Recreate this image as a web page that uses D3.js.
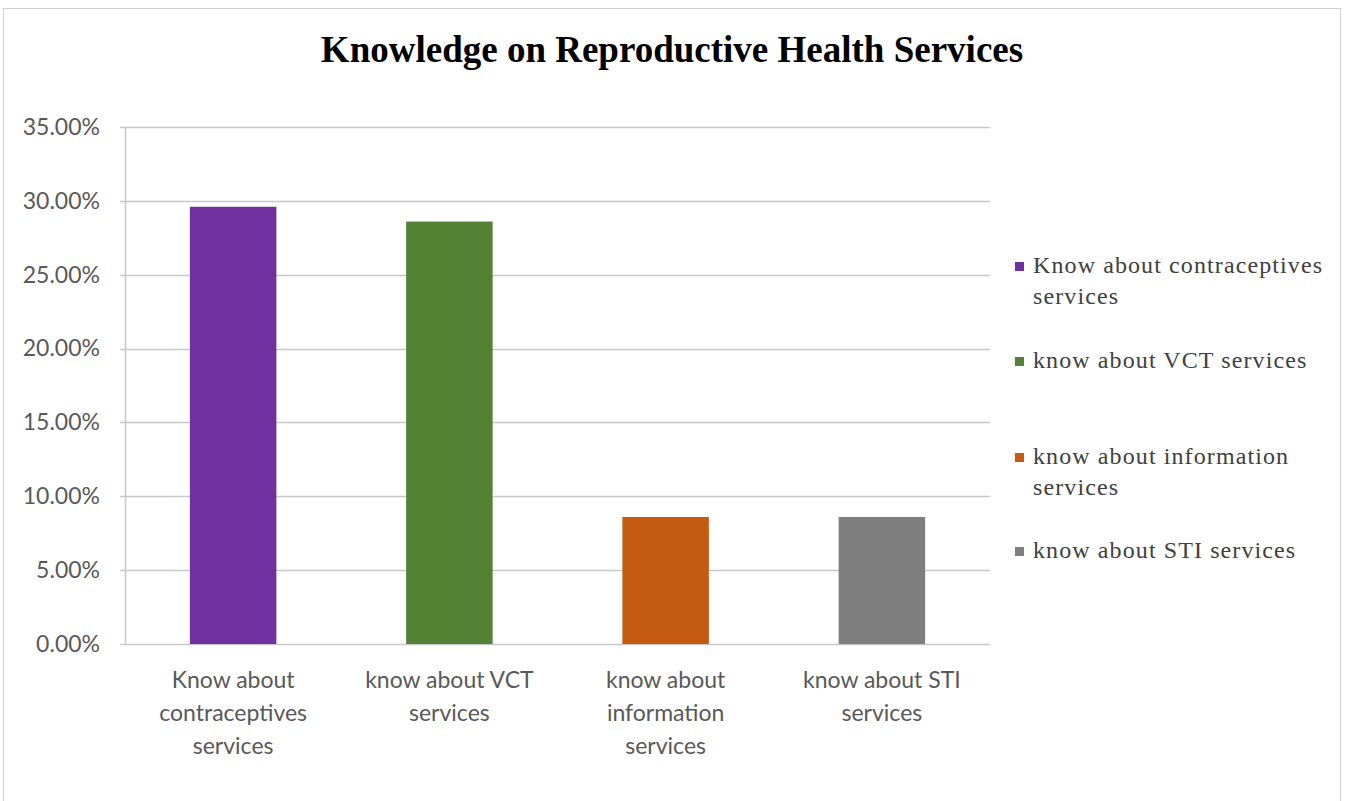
<!DOCTYPE html>
<html>
<head>
<meta charset="utf-8">
<script src="https://cdn.jsdelivr.net/npm/d3@7"></script>
<style>
  body { margin: 0; background: #fff; }
</style>
</head>
<body>
<div id="chart"></div>
<script>
// chart data
var categories = [
  ["Know about", "contraceptives", "services"],
  ["know about VCT", "services"],
  ["know about", "information", "services"],
  ["know about STI", "services"]
];
var legendLabels = [
  ["Know about contraceptives", "services"],
  ["know about VCT services"],
  ["know about information", "services"],
  ["know about STI services"]
];
var values = [0.296, 0.286, 0.086, 0.086];
var colors = ["#7030A0", "#548235", "#C55A11", "#7F7F7F"];
var yTicks = [0, 0.05, 0.10, 0.15, 0.20, 0.25, 0.30, 0.35];

var W = 1345, H = 801;
var margin = { top: 127, right: 355, bottom: 157, left: 125 },
  width = W - margin.left - margin.right,
  height = H - margin.top - margin.bottom;

var svg = d3.select("#chart").append("svg")
  .attr("width", W)
  .attr("height", H);

// outer frame
svg.append("rect")
  .attr("x", 3.5).attr("y", 8.5)
  .attr("width", 1337).attr("height", 800)
  .attr("fill", "none")
  .attr("stroke", "#d0d0d0");

svg.append("text")
  .attr("x", 672)
  .attr("y", 62)
  .attr("text-anchor", "middle")
  .style("font-family", "'Liberation Serif', 'Times New Roman', serif")
  .style("font-weight", "bold")
  .style("font-size", "37px")
  .style("fill", "#000")
  .text("Knowledge on Reproductive Health Services");

var g = svg.append("g")
  .attr("transform", "translate(" + margin.left + "," + margin.top + ")");

var x = d3.scaleBand()
  .domain(d3.range(categories.length))
  .range([0, width]);
var y = d3.scaleLinear()
  .domain([0, 0.35])
  .range([height, 0]);

// gridlines
g.selectAll(".grid")
  .data(yTicks)
  .enter().append("line")
  .attr("x1", -5)
  .attr("x2", width)
  .attr("y1", function (d) { return Math.round(y(d)) + 0.5; })
  .attr("y2", function (d) { return Math.round(y(d)) + 0.5; })
  .attr("stroke", "#c8c8c8")
  .attr("stroke-width", 1.5);

// y axis
var yAxis = g.append("g")
  .call(d3.axisLeft(y).tickValues(yTicks).tickSize(0).tickPadding(25)
    .tickFormat(function (d) { return (d * 100).toFixed(2) + "%"; }));
yAxis.select(".domain").attr("stroke", "#c8c8c8").attr("stroke-width", 1.5);
yAxis.selectAll("text")
  .style("font-family", "Lato, 'Open Sans', sans-serif")
  .style("font-size", "23px")
  .style("fill", "#595959");

// bars
var barW = x.bandwidth() * 0.4;
g.selectAll(".bar")
  .data(values)
  .enter().append("rect")
  .attr("class", "bar")
  .attr("x", function (d, i) { return x(i) + (x.bandwidth() - barW) / 2; })
  .attr("width", barW)
  .attr("y", function (d) { return y(d); })
  .attr("height", function (d) { return height - y(d); })
  .attr("fill", function (d, i) { return colors[i]; });

// x labels
var xl = g.selectAll(".xlab")
  .data(categories)
  .enter().append("text")
  .attr("class", "xlab")
  .attr("text-anchor", "middle")
  .attr("transform", function (d, i) {
    return "translate(" + (x(i) + x.bandwidth() / 2) + "," + (height + 44) + ")";
  })
  .style("font-family", "Lato, 'Open Sans', sans-serif")
  .style("font-size", "23px")
  .style("fill", "#595959");
xl.selectAll("tspan")
  .data(function (d) { return d; })
  .enter().append("tspan")
  .attr("x", 0)
  .attr("y", function (d, i) { return i * 33; })
  .text(function (d) { return d; });

// legend
var legendY = [266, 361, 457, 551];
var leg = svg.selectAll(".legend")
  .data(legendLabels)
  .enter().append("g")
  .attr("class", "legend")
  .attr("transform", function (d, i) { return "translate(1015," + legendY[i] + ")"; });
leg.append("rect")
  .attr("x", 0).attr("y", -4)
  .attr("width", 9).attr("height", 9)
  .attr("fill", function (d, i) { return colors[i]; });
var lt = leg.append("text")
  .style("font-family", "'Liberation Serif', 'Times New Roman', serif")
  .style("font-size", "24px")
  .style("letter-spacing", "1.1px")
  .style("fill", "#404040");
lt.selectAll("tspan")
  .data(function (d) { return d; })
  .enter().append("tspan")
  .attr("x", 18)
  .attr("y", function (d, i) { return 7 + i * 31; })
  .text(function (d) { return d; });
</script>
</body>
</html>
